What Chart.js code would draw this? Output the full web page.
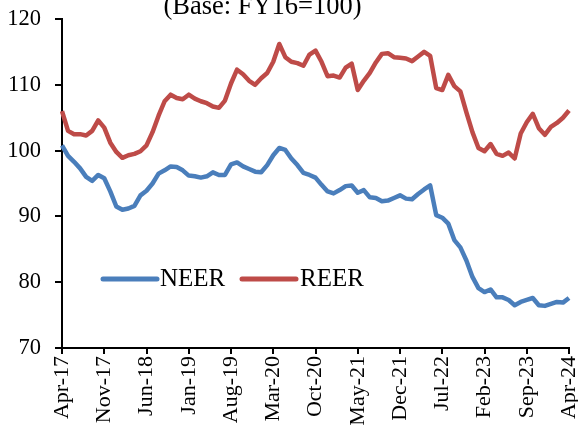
<!DOCTYPE html>
<html>
<head>
<meta charset="utf-8">
<script src="https://cdn.jsdelivr.net/npm/chart.js@4.4.1/dist/chart.umd.min.js"></script>
<style>
  html, body { margin: 0; padding: 0; background: #fff; }
  #wrap { width: 578px; height: 431px; position: relative; }
</style>
</head>
<body>
<div id="wrap"><canvas id="reerChart"></canvas></div>
<script>
// Meses (abr-17 a abr-24)
const months = [
  'Apr-17','May-17','Jun-17','Jul-17','Aug-17','Sep-17','Oct-17','Nov-17','Dec-17','Jan-18','Feb-18','Mar-18',
  'Apr-18','May-18','Jun-18','Jul-18','Aug-18','Sep-18','Oct-18','Nov-18','Dec-18','Jan-19','Feb-19','Mar-19',
  'Apr-19','May-19','Jun-19','Jul-19','Aug-19','Sep-19','Oct-19','Nov-19','Dec-19','Jan-20','Feb-20','Mar-20',
  'Apr-20','May-20','Jun-20','Jul-20','Aug-20','Sep-20','Oct-20','Nov-20','Dec-20','Jan-21','Feb-21','Mar-21',
  'Apr-21','May-21','Jun-21','Jul-21','Aug-21','Sep-21','Oct-21','Nov-21','Dec-21','Jan-22','Feb-22','Mar-22',
  'Apr-22','May-22','Jun-22','Jul-22','Aug-22','Sep-22','Oct-22','Nov-22','Dec-22','Jan-23','Feb-23','Mar-23',
  'Apr-23','May-23','Jun-23','Jul-23','Aug-23','Sep-23','Oct-23','Nov-23','Dec-23','Jan-24','Feb-24','Mar-24',
  'Apr-24'
];

// NEER
const neer = [
  100.8, 99.2, 98.3, 97.3, 96.0, 95.4, 96.3, 95.8, 93.8, 91.5, 91.0, 91.2,
  91.6, 93.2, 93.9, 95.0, 96.5, 97.0, 97.6, 97.5, 97.0, 96.2, 96.1, 95.9,
  96.1, 96.7, 96.3, 96.3, 97.9, 98.2, 97.6, 97.2, 96.8, 96.7, 97.8, 99.3,
  100.4, 100.1, 98.8, 97.8, 96.6, 96.3, 95.9, 94.8, 93.8, 93.5, 94.0, 94.6,
  94.7, 93.6, 94.0, 92.9, 92.8, 92.3, 92.4, 92.8, 93.2, 92.7, 92.6, 93.4,
  94.1, 94.7, 90.2, 89.8, 88.9, 86.4, 85.3, 83.3, 80.8, 79.1, 78.5, 78.9,
  77.7, 77.7, 77.3, 76.5, 77.0, 77.3, 77.6, 76.5, 76.4, 76.7, 77.0, 76.9,
  77.6
];

// REER
const reer = [
  106.0, 103.0, 102.5, 102.5, 102.3, 103.0, 104.6, 103.5, 101.2, 99.8, 98.9, 99.3,
  99.5, 99.9, 100.8, 102.8, 105.3, 107.5, 108.5, 108.0, 107.8, 108.5, 107.9, 107.5,
  107.2, 106.7, 106.5, 107.6, 110.2, 112.3, 111.6, 110.6, 110.0, 111.0, 111.8, 113.5,
  116.2, 114.2, 113.5, 113.3, 112.9, 114.6, 115.2, 113.5, 111.3, 111.4, 111.1, 112.6,
  113.2, 109.2, 110.6, 111.8, 113.4, 114.7, 114.8, 114.2, 114.1, 114.0, 113.6, 114.3,
  115.0, 114.4, 109.5, 109.2, 111.5, 109.8, 109.0, 105.8, 102.8, 100.4, 99.9, 101.0,
  99.5, 99.2, 99.7, 98.8, 102.6, 104.3, 105.6, 103.4, 102.4, 103.6, 104.2, 105.0,
  106.1
];

// Marcas del eje Y
const yTicks = [70, 80, 90, 100, 110, 120];
const titleText = '(Base: FY16=100)';

const serif = '"Liberation Serif", "Times New Roman", serif';
Chart.defaults.color = '#000';
Chart.defaults.font.family = serif;

// Título recortado arriba y leyenda dentro del área del gráfico
const overlay = {
  id: 'overlay',
  afterDraw(chart) {
    const ctx = chart.ctx;
    ctx.save();
    ctx.fillStyle = '#000';
    ctx.font = '26.5px ' + serif;
    ctx.textAlign = 'center';
    ctx.textBaseline = 'alphabetic';
    ctx.fillText(titleText, 262.5, 14);

    const items = [
      { x0: 103, x1: 157, tx: 160, ds: chart.data.datasets[0] },
      { x0: 242, x1: 296, tx: 300, ds: chart.data.datasets[1] }
    ];
    ctx.font = '25px ' + serif;
    ctx.textAlign = 'left';
    items.forEach(it => {
      ctx.strokeStyle = it.ds.borderColor;
      ctx.lineWidth = 5;
      ctx.lineCap = 'round';
      ctx.beginPath();
      ctx.moveTo(it.x0, 279);
      ctx.lineTo(it.x1, 279);
      ctx.stroke();
      ctx.fillText(it.ds.label, it.tx, 286);
    });
    ctx.restore();
  }
};

new Chart(document.getElementById('reerChart'), {
  type: 'line',
  data: {
    labels: months,
    datasets: [
      { label: 'NEER', data: neer, borderColor: '#4A7EBB', borderWidth: 4.5, pointRadius: 0, tension: 0, borderJoinStyle: 'round' },
      { label: 'REER', data: reer, borderColor: '#BE4B48', borderWidth: 4.5, pointRadius: 0, tension: 0, borderJoinStyle: 'round' }
    ]
  },
  options: {
    responsive: true,
    maintainAspectRatio: false,
    animation: false,
    layout: { padding: { top: 19, right: 9, left: 0, bottom: 0 } },
    plugins: {
      legend: { display: false },
      tooltip: { enabled: false }
    },
    scales: {
      x: {
        offset: false,
        grid: { display: true, drawOnChartArea: false, drawTicks: true, tickLength: 6, color: '#000', lineWidth: 2, offset: false },
        border: { display: true, color: '#000', width: 2 },
        ticks: {
          autoSkip: false,
          maxRotation: 90,
          minRotation: 90,
          padding: 2,
          font: { size: 22 },
          callback: (v, i) => (i % 7 === 0 ? months[i] : null)
        },
        afterFit(scale) {
          scale.height = 83;
          scale.paddingLeft = 0;
          scale.paddingRight = 0;
        }
      },
      y: {
        min: yTicks[0],
        max: yTicks[yTicks.length - 1],
        grid: { display: true, drawOnChartArea: false, drawTicks: true, tickLength: 7, color: '#000', lineWidth: 2 },
        border: { display: true, color: '#000', width: 2 },
        ticks: { stepSize: 10, padding: 14, font: { size: 22.5 } },
        afterFit(scale) {
          scale.width = 62;
          scale.paddingTop = 0;
          scale.paddingBottom = 0;
        }
      }
    }
  },
  plugins: [overlay]
});
</script>
</body>
</html>
